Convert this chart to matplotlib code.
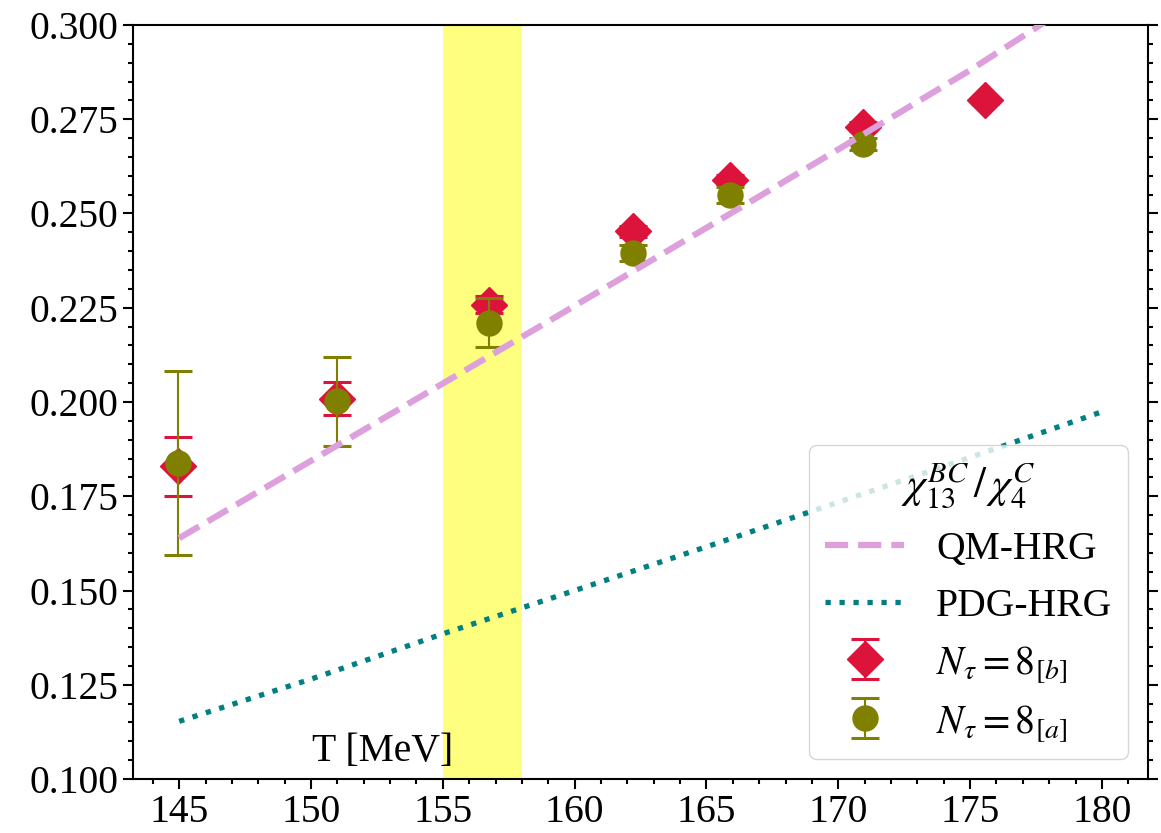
import matplotlib.pyplot as plt
import numpy as np

plt.rcParams["font.family"] = ["Liberation Serif", "DejaVu Serif"]
plt.rcParams["mathtext.fontset"] = "stix"
plt.rcParams["font.size"] = 28.5

# HRG model curves
T_model = [145, 150, 155, 160, 165, 170, 175, 180]
qm_hrg = [0.1639, 0.1844, 0.2049, 0.2255, 0.2462, 0.2670, 0.2880, 0.3105]
pdg_hrg = [0.1153, 0.1265, 0.1385, 0.1500, 0.1616, 0.1734, 0.1853, 0.1974]

# lattice data, N_tau = 8 [b]
T_b = [144.95, 151.0, 156.75, 162.2, 165.9, 170.95, 175.55]
chi_b = [0.1830, 0.2009, 0.2258, 0.2453, 0.2589, 0.2730, 0.2800]
err_b = [0.0078, 0.0043, 0.0023, 0.0015, 0.0012, 0.0012, 0.0010]

# lattice data, N_tau = 8 [a]
T_a = [144.95, 151.0, 156.75, 162.2, 165.9, 170.95]
chi_a = [0.1838, 0.2002, 0.2210, 0.2395, 0.2549, 0.2684]
err_a = [0.0243, 0.0118, 0.0065, 0.0022, 0.0022, 0.0016]

# pseudo-critical temperature band
Tc_band = (155.0, 158.0)

fig = plt.figure(figsize=(11.61, 8.33), dpi=100)
ax = fig.add_axes([0.1146, 0.0648, 0.8742, 0.9052])

ax.axvspan(*Tc_band, color="yellow", alpha=0.5, lw=0, zorder=0)

eb_b = ax.errorbar(T_b, chi_b, yerr=err_b, fmt="D", color="crimson",
                   ms=18, elinewidth=1.5, capsize=10, capthick=2.2,
                   label=r"$N_\tau = 8_{[b]}$", zorder=2)
eb_a = ax.errorbar(T_a, chi_a, yerr=err_a, fmt="o", color="olive",
                   ms=18, elinewidth=1.5, capsize=10, capthick=2.2,
                   label=r"$N_\tau = 8_{[a]}$", zorder=2.5)

l_qm, = ax.plot(T_model, qm_hrg, ls="--", color="plum", lw=4.5,
                label="QM-HRG", zorder=3)
l_pdg, = ax.plot(T_model, pdg_hrg, ls=":", color="teal", lw=3.8,
                 label="PDG-HRG", zorder=3)

ax.set_ylim(0.1, 0.3)
ax.set_xlim(143.25, 181.75)
ax.set_xticks(np.arange(145, 181, 5))
ax.set_xticks(np.arange(144, 182, 1), minor=True)
ax.set_yticks(np.arange(0.1, 0.3001, 0.025))
ax.set_yticks(np.arange(0.1, 0.3001, 0.005), minor=True)
ax.yaxis.set_major_formatter(plt.FormatStrFormatter("%.3f"))

ax.tick_params(which="both", direction="out", right=True, top=False, width=1.5)
ax.tick_params(which="major", length=7)
ax.tick_params(which="minor", length=3.5)
for sp in ax.spines.values():
    sp.set_linewidth(1.5)

ax.text(152.7, 0.1047, "T [MeV]", ha="center", va="baseline")

ax.legend(handles=[l_qm, l_pdg, eb_b, eb_a], loc="lower right",
          title=r"$\chi^{BC}_{13}\,/\,\chi^{C}_{4}$", title_fontsize=31)

fig.savefig("out.png", dpi=100)
